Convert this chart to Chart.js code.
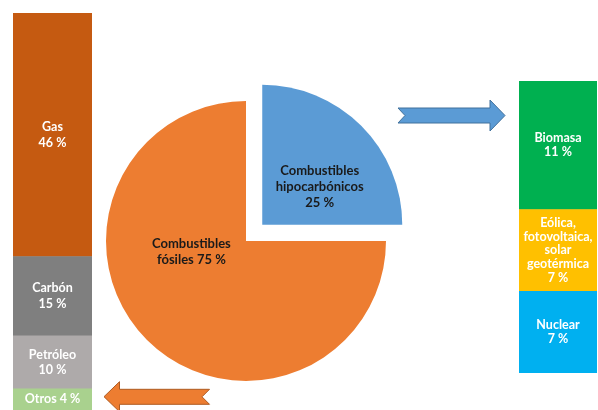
<!DOCTYPE html>
<html>
<head>
<meta charset="utf-8">
<script src="https://cdn.jsdelivr.net/npm/chart.js@4.4.1/dist/chart.umd.min.js"></script>
<style>
  html, body { margin: 0; padding: 0; background: #ffffff; }
  #stage { position: relative; width: 598px; height: 410px; overflow: hidden; }
  #stage canvas, #stage svg { position: absolute; }
</style>
</head>
<body>
<div id="stage">
  <canvas id="bar_left" width="79" height="397" style="left:13px; top:13px;"></canvas>
  <canvas id="pie_main" width="320" height="320" style="left:86px; top:81px;"></canvas>
  <canvas id="bar_right" width="78" height="292" style="left:519px; top:81px;"></canvas>
  <!-- flechas decorativas -->
  <svg width="598" height="410" style="left:0; top:0;">
    <polygon points="398,108 490,108 490,100 505,115.5 490,131 490,123 398,123 405,115.5"
             fill="#5b9bd5" stroke="#41719c" stroke-width="1"/>
    <polygon points="104,396.7 119.5,381.7 119.5,389.3 209.5,389.3 202,396.8 209.5,404.3 119.5,404.3 119.5,411.7"
             fill="#ed7d31" stroke="#ae5a21" stroke-width="1"/>
  </svg>
</div>
<script>
// datos del grafico
const pieLabels = ['Combustibles\nhipocarbónicos\n', 'Combustibles\nfósiles '];
const pieValues = [25, 75];
const pieColors = ['#5b9bd5', '#ed7d31'];

const fossilLabels = ['Gas', 'Carbón', 'Petróleo', 'Otros'];
const fossilValues = [46, 15, 10, 4];
const fossilColors = ['#c55a11', '#7f7f7f', '#aeaaaa', '#a9d18e'];

const lowCarbonLabels = ['Biomasa', 'Eólica,\nfotovoltaica,\nsolar\ngeotérmica', 'Nuclear'];
const lowCarbonValues = [11, 7, 7];
const lowCarbonColors = ['#00b050', '#ffc000', '#00b0f0'];

const FONT = "'Lato', 'Liberation Sans', sans-serif";

// texto dentro de cada segmento de barra
const barTextPlugin = {
  id: 'barText',
  afterDatasetsDraw(chart) {
    const ctx = chart.ctx;
    ctx.save();
    ctx.font = 'bold 12.5px ' + FONT;
    ctx.fillStyle = '#ffffff';
    ctx.textAlign = 'center';
    ctx.textBaseline = 'middle';
    const lh = chart.options.plugins.barText.lineHeight;
    chart.data.datasets.forEach((ds, i) => {
      const bar = chart.getDatasetMeta(i).data[0];
      let lines = (ds.label + '\n' + ds.data[0] + ' %').split('\n');
      const h = Math.abs(bar.base - bar.y);
      if (lines.length * lh > h) lines = [lines.join(' ')];
      const cy = (bar.y + bar.base) / 2;
      lines.forEach((t, k) => {
        ctx.fillText(t, bar.x, cy + (k - (lines.length - 1) / 2) * lh);
      });
    });
    ctx.restore();
  }
};

function stackedBar(id, labels, values, colors, lineHeight) {
  const total = values.reduce((a, b) => a + b, 0);
  // el primer dataset queda abajo, por eso se invierte
  const datasets = labels.map((l, i) => ({
    label: l,
    data: [values[i]],
    backgroundColor: colors[i],
    borderWidth: 0,
    barPercentage: 1,
    categoryPercentage: 1
  })).reverse();
  return new Chart(document.getElementById(id).getContext('2d'), {
    type: 'bar',
    data: { labels: [''], datasets: datasets },
    options: {
      responsive: false,
      animation: false,
      layout: { padding: 0 },
      scales: {
        x: { stacked: true, display: false },
        y: { stacked: true, display: false, min: 0, max: total }
      },
      plugins: {
        legend: { display: false },
        tooltip: { enabled: false },
        barText: { lineHeight: lineHeight }
      }
    },
    plugins: [barTextPlugin]
  });
}

const leftBar = stackedBar('bar_left', fossilLabels, fossilValues, fossilColors, 15.5);
const rightBar = stackedBar('bar_right', lowCarbonLabels, lowCarbonValues, lowCarbonColors, 13.8);

// etiquetas del pastel
const pieTextPlugin = {
  id: 'pieText',
  afterDatasetsDraw(chart) {
    const ctx = chart.ctx;
    const meta = chart.getDatasetMeta(0);
    const pos = chart.options.plugins.pieText.pos;
    ctx.save();
    ctx.font = 'bold 13px ' + FONT;
    ctx.fillStyle = '#1a1a1a';
    ctx.textAlign = 'center';
    ctx.textBaseline = 'middle';
    meta.data.forEach((arc, i) => {
      const half = (arc.startAngle + arc.endAngle) / 2;
      const shift = (arc.options.offset || 0) / 4;
      const cx = arc.x + Math.cos(half) * shift + pos[i][0] * arc.outerRadius;
      const cy = arc.y + Math.sin(half) * shift + pos[i][1] * arc.outerRadius;
      const lines = (chart.data.labels[i] + chart.data.datasets[0].data[i] + ' %').split('\n');
      lines.forEach((t, k) => {
        ctx.fillText(t, cx, cy + (k - (lines.length - 1) / 2) * 15.8);
      });
    });
    ctx.restore();
  }
};

const pieChart = new Chart(document.getElementById('pie_main').getContext('2d'), {
  type: 'pie',
  data: {
    labels: pieLabels,
    datasets: [{
      data: pieValues,
      backgroundColor: pieColors,
      borderWidth: 0,
      offset: [92, 0] // separa la porcion azul
    }]
  },
  options: {
    responsive: false,
    animation: false,
    radius: 140,
    layout: { padding: 0 },
    plugins: {
      legend: { display: false },
      tooltip: { enabled: false },
      pieText: { pos: [[0.41, -0.27], [-0.39, 0.08]] }
    }
  },
  plugins: [pieTextPlugin]
});
</script>
</body>
</html>
